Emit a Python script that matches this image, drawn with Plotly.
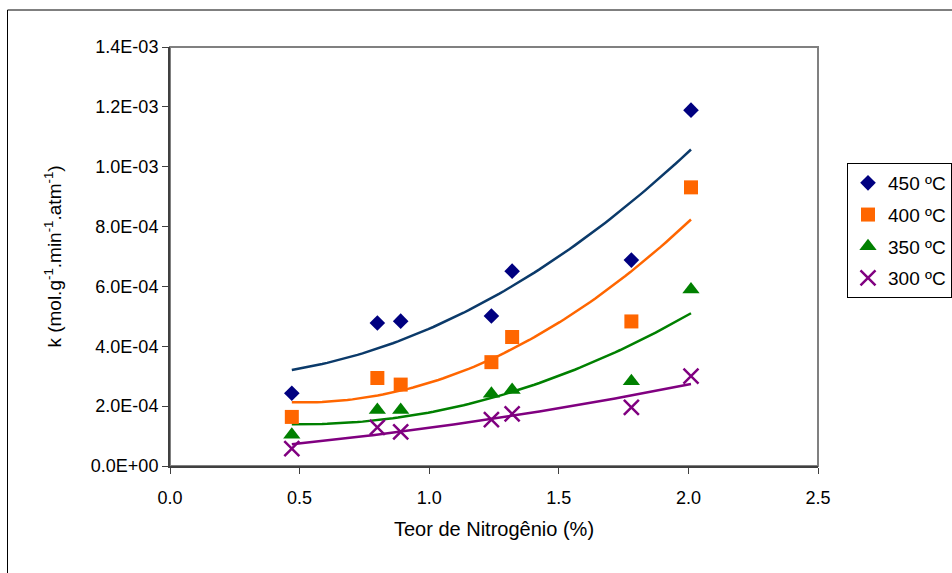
import numpy as np
import plotly.graph_objects as go

# Data
nitrogen = [0.47, 0.80, 0.89, 1.24, 1.32, 1.78, 2.01]
k_450 = [2.43e-4, 4.78e-4, 4.84e-4, 5.01e-4, 6.51e-4, 6.88e-4, 1.189e-3]
k_400 = [1.64e-4, 2.94e-4, 2.72e-4, 3.47e-4, 4.31e-4, 4.83e-4, 9.31e-4]
k_350 = [1.04e-4, 1.87e-4, 1.87e-4, 2.41e-4, 2.54e-4, 2.83e-4, 5.90e-4]
k_300 = [5.8e-5, 1.29e-4, 1.14e-4, 1.55e-4, 1.74e-4, 1.96e-4, 3.00e-4]
series_names = ["450 ºC", "400 ºC", "350 ºC", "300 ºC"]

y_tickvals = [0, 2e-4, 4e-4, 6e-4, 8e-4, 1.0e-3, 1.2e-3, 1.4e-3]
y_ticktext = ["0.0E+00", "2.0E-04", "4.0E-04", "6.0E-04", "8.0E-04",
              "1.0E-03", "1.2E-03", "1.4E-03"]
x_tickvals = [0.0, 0.5, 1.0, 1.5, 2.0, 2.5]
x_ticktext = ["0.0", "0.5", "1.0", "1.5", "2.0", "2.5"]

styles = [
    dict(symbol="diamond", color="#000080", size=12, line="#0B3A6A"),
    dict(symbol="square", color="#FF6600", size=14, line="#FF6600"),
    dict(symbol="triangle-up", color="#008000", size=15, line="#008000"),
    dict(symbol="x-thin", color="#800080", size=15, line="#800080"),
]

FONT = "Liberation Sans, Arial, sans-serif"
fig = go.Figure()

all_series = [k_450, k_400, k_350, k_300]
xs = np.linspace(min(nitrogen), max(nitrogen), 80)
for name, ys, st in zip(series_names, all_series, styles):
    coef = np.polyfit(nitrogen, ys, 2)
    fig.add_trace(go.Scatter(
        x=xs, y=np.polyval(coef, xs), mode="lines",
        line=dict(color=st["line"], width=2.5), showlegend=False,
        hoverinfo="skip", legendgroup=name))
for name, ys, st in zip(series_names, all_series, styles):
    marker = dict(symbol=st["symbol"], color=st["color"], size=st["size"])
    if st["symbol"] == "x-thin":
        marker["line"] = dict(color=st["color"], width=2.5)
    else:
        marker["line"] = dict(width=0)
    fig.add_trace(go.Scatter(
        x=nitrogen, y=ys, mode="markers", name=name, marker=marker,
        legendgroup=name))

W, H = 952, 573
L, T, PW, PH = 170, 47, 648, 419
fig.update_layout(
    width=W, height=H,
    margin=dict(l=L, r=W - L - PW, t=T, b=H - T - PH, autoexpand=False),
    paper_bgcolor="white", plot_bgcolor="white",
    font=dict(family=FONT, size=18, color="black"),
    showlegend=True,
    legend=dict(
        x=(847 - L) / PW, y=(T + PH - 163) / PH, xanchor="left", yanchor="top",
        bordercolor="black", borderwidth=1, bgcolor="white",
        font=dict(family=FONT, size=19, color="black"),
        tracegroupgap=4, traceorder="grouped",
    ),
    xaxis=dict(
        range=[0, 2.5], tickvals=x_tickvals, ticktext=x_ticktext,
        showgrid=False, zeroline=False, showline=True, linecolor="#404040",
        linewidth=2, ticks="outside", ticklen=6, tickcolor="#404040",
        tickwidth=1, tickfont=dict(size=18), ticklabelstandoff=8,
        title=dict(text="Teor de Nitrogênio (%)", font=dict(size=20), standoff=15),
    ),
    yaxis=dict(
        range=[0, 1.4e-3], tickvals=y_tickvals, ticktext=y_ticktext,
        showgrid=False, zeroline=False, showline=True, linecolor="#404040",
        linewidth=2, ticks="outside", ticklen=6, tickcolor="#404040",
        tickwidth=1, tickfont=dict(size=18),
        title=dict(text="k (mol.g<sup>-1</sup>.min<sup>-1</sup>.atm<sup>-1</sup>)",
                   font=dict(size=19), standoff=24),
    ),
    shapes=[
        dict(type="rect", xref="paper", yref="paper", x0=0, x1=1, y0=0, y1=1,
             line=dict(color="#808080", width=2), layer="below"),
        dict(type="rect", xref="paper", yref="paper",
             x0=(7.5 - L) / PW, x1=(1000 - L) / PW,
             y0=(T + PH - 620) / PH, y1=(T + PH - 10) / PH,
             line=dict(color="black", width=1), layer="below"),
    ],
)

fig.write_html(
    "out.html",
    config={"displayModeBar": False},
    post_script="document.body.style.margin='0px';"
                "document.body.style.overflow='hidden';",
)
